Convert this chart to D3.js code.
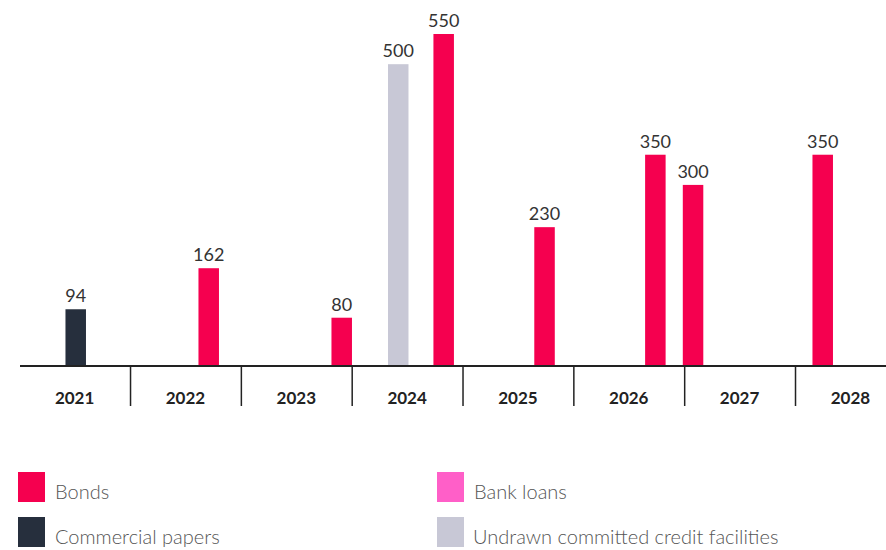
<!DOCTYPE html>
<html>
<head>
<meta charset="utf-8">
<script src="https://cdn.jsdelivr.net/npm/d3@7"></script>
<style>
  body { margin: 0; background: #fff; }
  svg { display: block; font-family: Lato, "Open Sans", sans-serif; }
  .value { font-size: 18px; fill: #333; }
  .year { font-size: 17px; font-weight: bold; fill: #222; }
  .legend text { font-size: 20px; font-weight: 300; fill: #555; }
</style>
</head>
<body>
<svg width="886" height="550"></svg>
<script>
// maturity profile, positioned by maturity date within each year
const years = [2021, 2022, 2023, 2024, 2025, 2026, 2027, 2028];
const seriesNames = ['Bonds', 'Bank loans', 'Commercial papers', 'Undrawn committed credit facilities'];
const seriesColors = ['#f5004f', '#ff5fc8', '#262f3d', '#c8c8d6'];

const barSeries = ['Commercial papers', 'Bonds', 'Bonds', 'Undrawn committed credit facilities',
  'Bonds', 'Bonds', 'Bonds', 'Bonds', 'Bonds'];
const barDates = [2021.51, 2022.71, 2023.91, 2024.42, 2024.83, 2025.74, 2026.74, 2027.08, 2028.25];
const barValues = [94, 162, 80, 500, 550, 230, 350, 300, 350];

const svg = d3.select('svg');

const baseline = 366;
const barWidth = 20.5;

const x = d3.scaleLinear()
  .domain([2021, 2029])
  .range([19.2, 19.2 + 8 * 110.83]);

const y = d3.scaleLinear()
  .domain([0, 550])
  .range([baseline, 34]);

const color = d3.scaleOrdinal()
  .domain(seriesNames)
  .range(seriesColors);

const bars = barValues.map((v, i) => ({ value: v, date: barDates[i], series: barSeries[i] }));

// bars
svg.append('g')
  .selectAll('rect')
  .data(bars)
  .enter()
  .append('rect')
  .attr('x', (d) => x(d.date) - barWidth / 2)
  .attr('y', (d) => y(d.value))
  .attr('width', barWidth)
  .attr('height', (d) => baseline - y(d.value))
  .attr('fill', (d) => color(d.series));

svg.append('g')
  .selectAll('text')
  .data(bars)
  .enter()
  .append('text')
  .attr('class', 'value')
  .attr('x', (d) => x(d.date))
  .attr('y', (d) => y(d.value) - 7)
  .attr('text-anchor', 'middle')
  .text((d) => d.value);

// axis: year labels centred, separators between years
const axis = svg.append('g')
  .attr('transform', `translate(0, ${baseline})`)
  .call(d3.axisBottom(x)
    .tickValues(years.slice(1).concat([2029]))
    .tickSize(40)
    .tickFormat(''));

axis.select('.domain')
  .attr('d', `M20,0H886`)
  .attr('stroke', '#222')
  .attr('stroke-width', 2);
axis.selectAll('.tick line')
  .attr('stroke', '#222')
  .attr('stroke-width', 1.5);

svg.append('g')
  .selectAll('text')
  .data(years)
  .enter()
  .append('text')
  .attr('class', 'year')
  .attr('x', (d) => x(d + 0.5))
  .attr('y', 404)
  .attr('text-anchor', 'middle')
  .text((d) => d);

// legend
const legendX = [18, 437];
const legendY = [472, 517];
const legend = svg.append('g')
  .attr('class', 'legend')
  .selectAll('g')
  .data(seriesNames)
  .enter()
  .append('g')
  .attr('transform', (d, i) => `translate(${legendX[i % 2]}, ${legendY[Math.floor(i / 2)]})`);

legend.append('rect')
  .attr('width', 27)
  .attr('height', 30)
  .attr('fill', (d) => color(d));

legend.append('text')
  .attr('x', (d, i) => i === 3 ? 36 : 37)
  .attr('y', 27)
  .text((d) => d);
</script>
</body>
</html>
